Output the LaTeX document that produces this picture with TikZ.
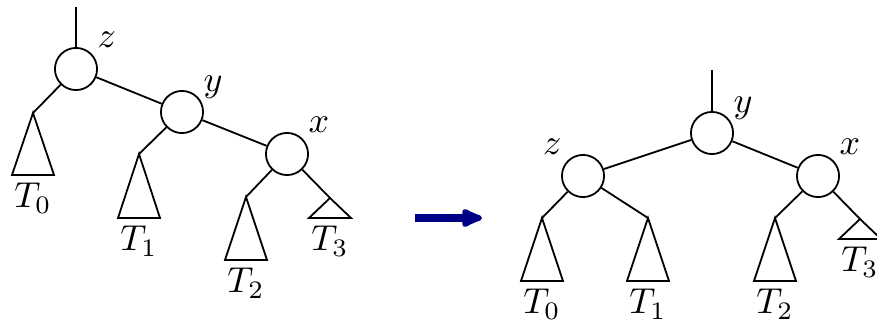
\documentclass[tikz,border=0pt]{standalone}
\usepackage{amsmath}
\usepackage{tikz}
\usetikzlibrary{positioning,arrows.meta}
\definecolor{rotnavy}{RGB}{0,0,135}

\tikzset{
  vertex/.style={draw, circle, inner sep=0pt, minimum size=11.7pt},
  vlabel/.style={inner sep=0pt, label distance=2pt},
  tname/.style={anchor=north, inner sep=2pt},
  rotarrow/.style={line width=2.2pt, rotnavy, -{Latex[length=7.5pt,width=6.3pt,round]}}
}

\begin{document}
\begin{tikzpicture}[x=0.2778pt, y=-0.2778pt, line width=0.5pt]
\useasboundingbox (0,0) rectangle (877,321);

% before rotation
\node[vertex, label={[vlabel]45:$z$}] (z) at (76,69) {};
\node[vertex, label={[vlabel, anchor=base west]45:$y$}] (y) at (182,112) {};
\node[vertex, label={[vlabel]45:$x$}] (x) at (287,154) {};
\coordinate (zin) at (76,7);
\coordinate (a0) at (33,113);
\coordinate (a1) at (139,154);
\coordinate (a2) at (246,197);
\coordinate (a3) at (330,198);
\draw (zin) -- (z);
\draw (z) -- (y);
\draw (y) -- (x);
\draw (z) -- (a0);
\draw (y) -- (a1);
\draw (x) -- (a2);
\draw (x) -- (a3);
\draw (a0) -- ++(-21,62) -- ++(42,0) -- cycle;
\node[tname] (t0) at (33,175) {$T_0$};
\draw (a1) -- ++(-21,64) -- ++(42,0) -- cycle;
\node[tname] (t1) at (139,218) {$T_1$};
\draw (a2) -- ++(-21,63) -- ++(42,0) -- cycle;
\node[tname] (t2) at (246,260) {$T_2$};
\draw (a3) -- ++(-21,20) -- ++(42,0) -- cycle;
\node[tname] (t3) at (330,218) {$T_3$};

% rotation arrow
\coordinate (rfrom) at (415,218);
\coordinate (rto) at (482,218);
\draw[rotarrow] (rfrom) -- (rto);

% after rotation
\node[vertex, label={[vlabel, anchor=base west]45:$y$}] (y') at (712,133) {};
\node[vertex, label={[vlabel]135:$z$}] (z') at (583,176) {};
\node[vertex, label={[vlabel]45:$x$}] (x') at (818,176) {};
\coordinate (yin) at (712,70);
\coordinate (b0) at (542,218);
\coordinate (b1) at (648,218);
\coordinate (b2) at (775,218);
\coordinate (b3) at (860,219);
\draw (yin) -- (y');
\draw (y') -- (z');
\draw (y') -- (x');
\draw (z') -- (b0);
\draw (z') -- (b1);
\draw (x') -- (b2);
\draw (x') -- (b3);
\draw (b0) -- ++(-21,63) -- ++(42,0) -- cycle;
\node[tname] (s0) at (542,281) {$T_0$};
\draw (b1) -- ++(-21,63) -- ++(42,0) -- cycle;
\node[tname] (s1) at (648,281) {$T_1$};
\draw (b2) -- ++(-21,63) -- ++(42,0) -- cycle;
\node[tname] (s2) at (775,281) {$T_2$};
\draw (b3) -- ++(-21,20) -- ++(42,0) -- cycle;
\node[tname] (s3) at (860,239) {$T_3$};
\end{tikzpicture}
\end{document}
